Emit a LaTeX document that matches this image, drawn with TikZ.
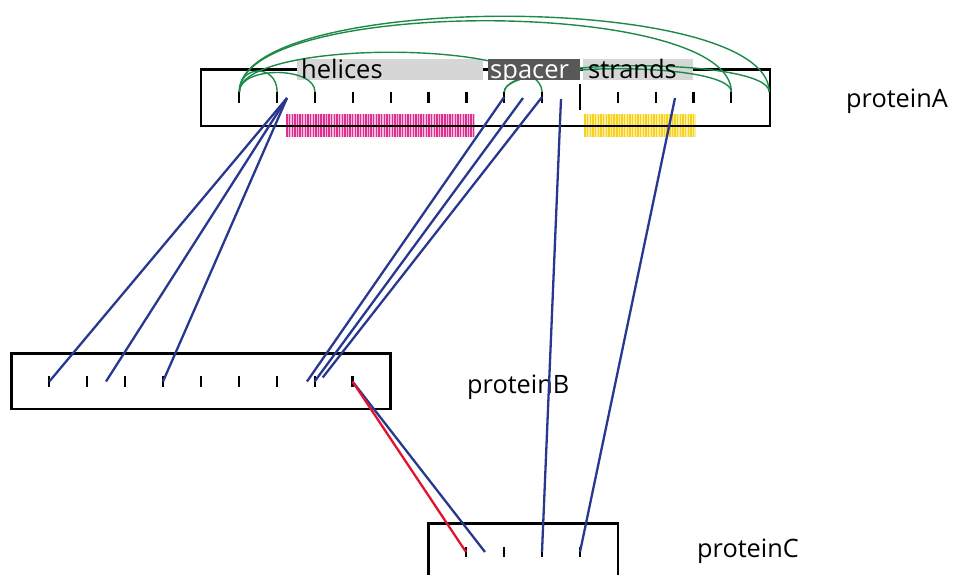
\documentclass[tikz,border=0pt]{standalone}
\usepackage{fontspec}
\setmainfont{Open Sans}
\definecolor{linkblue}{HTML}{28388F}
\definecolor{linkred}{HTML}{E3122D}
\definecolor{loopgreen}{HTML}{1D8A4A}
\definecolor{barlight}{HTML}{D6D6D6}
\definecolor{bardark}{HTML}{585858}
\definecolor{pinkdark}{HTML}{DD2F90}
\definecolor{pinklight}{HTML}{F6B8DA}
\definecolor{yellowdark}{HTML}{F6D21C}
\definecolor{yellowlight}{HTML}{FCEE9A}
\begin{document}
\begin{tikzpicture}[x=1pt,y=-1pt,
  protbox/.style={draw=black,line width=2.3pt},
  tickmark/.style={line width=2.2pt},
  longtick/.style={line width=2.4pt},
  xlink/.style={draw=linkblue,line width=2.3pt},
  xlinkred/.style={draw=linkred,line width=2.3pt},
  selflink/.style={draw=loopgreen,line width=1.4pt},
  pinkstripe/.style={draw=pinkdark,line width=1.4pt},
  yellowstripe/.style={draw=yellowdark,line width=1.4pt},
  featlbl/.style={inner sep=0pt,anchor=base west,font=\fontsize{25.5}{26}\selectfont},
  protlbl/.style={inner sep=0pt,anchor=base west,font=\fontsize{25.3}{26}\selectfont}]
\useasboundingbox (0,0) rectangle (955,575);
\clip (0,0) rectangle (955,575);

% ---- tick positions (every 10 residues) ----
\foreach \k in {0,...,14} {
  \coordinate (a\k) at ({239.3+37.85*\k},97);
  \coordinate (at\k) at ({239.3+37.85*\k},92);
}
\foreach \k in {0,...,8}
  \coordinate (b\k) at ({49.3+37.9*\k},381.5);
\foreach \k in {0,...,3}
  \coordinate (c\k) at ({466+38*\k},552);

% ---- feature stripes under protein A ----
\fill[pinklight] (286,114) rectangle (475,137);
\foreach \i in {0,...,71}
  \draw[pinkstripe] ({287+2.63*\i},114) -- ++(0,23);
\fill[yellowlight] (584,114) rectangle (696,137);
\foreach \i in {0,...,41}
  \draw[yellowstripe] ({585+2.65*\i},114) -- ++(0,23);

% ---- protein bars ----
\draw[protbox] (201,69.5) rectangle (770,126);
\draw[protbox] (11.5,353.5) rectangle (390.5,409);
\draw[protbox] (428.5,523.5) rectangle (618,620);

% ---- ticks ----
\foreach \k in {0,...,8,10,11,12,13}
  \draw[tickmark] (a\k) ++(0,-5) -- ++(0,11);
\draw[longtick] (a9) ++(0,-13) -- ++(0,26);
\foreach \k in {0,...,8}
  \draw[tickmark] (b\k) ++(0,-5.5) -- ++(0,11);
\foreach \k in {0,...,3}
  \draw[tickmark] (c\k) ++(0,-5) -- ++(0,10);

% ---- region labels ----
\fill[barlight] (297,59) rectangle (483,80.5);
\fill[barlight] (583,59) rectangle (693,80.5);

% ---- intra-protein links ----
\draw[selflink] (at0) .. controls +(0,-28) and +(0,-28) .. (at1);
\draw[selflink] (at0) .. controls +(0,-26) and +(0,-26) .. (at2);
\draw[selflink] (at0) .. controls +(0,-53) and +(0,-53) .. (at8);
\draw[selflink] (at0) .. controls +(0,-95) and +(0,-95) .. (at13);
\draw[selflink] (at0) .. controls +(0,-101) and +(0,-101) .. (at14);
\draw[selflink] (at7) .. controls +(0,-31) and +(0,-31) .. (at13);
\draw[selflink] (at7) .. controls +(0,-35) and +(0,-35) .. (at14);

\fill[bardark] (488,59) rectangle (580,80.5);
\node[featlbl] (helices) at (301,79) {helices};
\node[featlbl,text=white] (spacer) at (490,79) {spacer};
\node[featlbl] (strands) at (588,79) {strands};

% ---- protein names ----
\node[protlbl] (protA) at (846,108) {proteinA};
\node[protlbl] (protB) at (467,393) {proteinB};
\node[protlbl] (protC) at (697,557) {proteinC};

% ---- inter-protein links ----
\coordinate (pa1) at (287,98);
\coordinate (pa2) at (523,98);
\coordinate (pa3) at (561,99);
\coordinate (pa4) at (675,98);
\coordinate (pb1) at (106,381.5);
\coordinate (pb2) at (307,381.5);
\coordinate (pb3) at (322.7,377.5);
\coordinate (pc1) at (485,552);

\draw[xlink] (pa1) -- (b0);
\draw[xlink] (pa1) -- (pb1);
\draw[xlink] (pa1) -- (b3);
\draw[xlink] (a7) -- (pb2);
\draw[xlink] (pa2) -- (b7);
\draw[xlink] (a8) -- (pb3);
\draw[xlink] (pa3) -- (c2);
\draw[xlink] (pa4) -- (c3);
\draw[xlink] (b8) -- (pc1);
\draw[xlinkred] (b8) -- (c0);
\end{tikzpicture}
\end{document}
